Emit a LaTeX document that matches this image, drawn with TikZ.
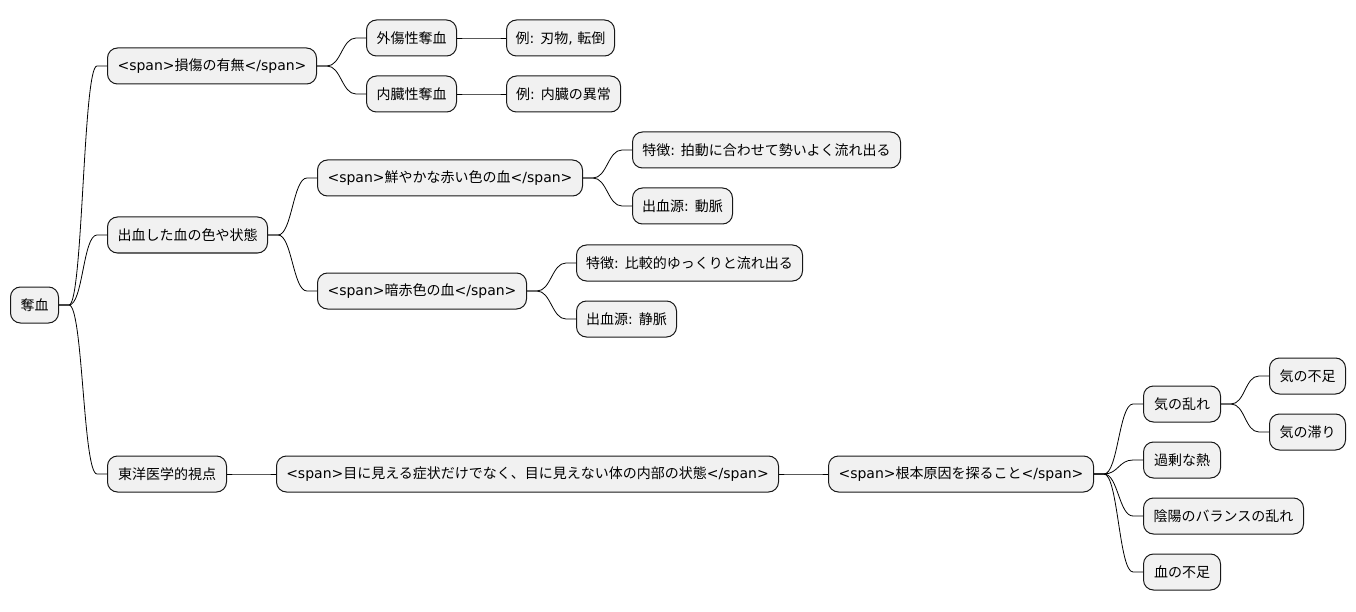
\documentclass[tikz,border=0pt]{standalone}
\usepackage{fontspec}
\setmainfont{DejaVu Sans}
\newfontfamily\jfont{Noto Sans CJK JP}
\usetikzlibrary{positioning}
\definecolor{boxgray}{RGB}{241,241,241}
\definecolor{edge}{RGB}{24,24,24}
% switch to the Japanese font for kana, kanji and full-width forms
\XeTeXinterchartokenstate=1
\newXeTeXintercharclass\jclass
\count255="3000 \loop\XeTeXcharclass\count255=\jclass\ifnum\count255<"30FF \advance\count255 by 1 \repeat
\count255="4E00 \loop\XeTeXcharclass\count255=\jclass\ifnum\count255<"9FFF \advance\count255 by 1 \repeat
\count255="FF00 \loop\XeTeXcharclass\count255=\jclass\ifnum\count255<"FFEF \advance\count255 by 1 \repeat
\XeTeXinterchartoks 0 \jclass = {\begingroup\jfont}
\XeTeXinterchartoks 4095 \jclass = {\begingroup\jfont}
\XeTeXinterchartoks \jclass 0 = {\endgroup}
\XeTeXinterchartoks \jclass 4095 = {\endgroup}
\newcommand{\branch}[2]{\draw[link] (#1.east) -- ++(10,0) .. controls +(14,0) and +(-14,0) .. ([xshift=-10pt]#2.west) -- (#2.west);}

\begin{document}
\begin{tikzpicture}[x=1pt,y=-1pt,
  every node/.style={font=\fontsize{14}{16}\selectfont},
  topic/.style={draw=edge,fill=boxgray,line width=1pt,rounded corners=10pt,minimum height=36pt,inner xsep=0pt,anchor=west,align=center},
  link/.style={draw=black,line width=0.8pt}]
\useasboundingbox (0,0) rectangle (1356,612);
% root
\node[topic,minimum width=48pt] (datsu) at (10,305) {奪血};
% injury
\node[topic,minimum width=209pt] (sonsho) at (107,66) {<span>損傷の有無</span>};
\node[topic,minimum width=90pt] (gaisho) at (366,38) {外傷性奪血};
\node[topic,minimum width=108pt] (gaishoEx) at (506,38) {例: 刃物, 転倒};
\node[topic,minimum width=90pt] (naizo) at (366,94) {内臓性奪血};
\node[topic,minimum width=114pt] (naizoEx) at (506,94) {例: 内臓の異常};
% colour of blood
\node[topic,minimum width=160pt] (iro) at (107,235) {出血した血の色や状態};
\node[topic,minimum width=265pt] (bright) at (317,178) {<span>鮮やかな赤い色の血</span>};
\node[topic,minimum width=268pt] (brightA) at (632,150) {特徴: 拍動に合わせて勢いよく流れ出る};
\node[topic,minimum width=100pt] (brightB) at (632,206) {出血源: 動脈};
\node[topic,minimum width=209pt] (dark) at (317,291) {<span>暗赤色の血</span>};
\node[topic,minimum width=226pt] (darkA) at (576,263) {特徴: 比較的ゆっくりと流れ出る};
\node[topic,minimum width=100pt] (darkB) at (576,319) {出血源: 静脈};
% eastern medicine
\node[topic,minimum width=119pt] (toyo) at (107,474) {東洋医学的視点};
\node[topic,minimum width=502pt] (mieru) at (276,474) {<span>目に見える症状だけでなく、目に見えない体の内部の状態</span>};
\node[topic,minimum width=265pt] (konpon) at (828,474) {<span>根本原因を探ること</span>};
\node[topic,minimum width=77pt] (kiran) at (1143,404) {気の乱れ};
\node[topic,minimum width=76pt] (kibusoku) at (1269,376) {気の不足};
\node[topic,minimum width=76pt] (kitodo) at (1269,432) {気の滞り};
\node[topic,minimum width=77pt] (netsu) at (1143,460) {過剰な熱};
\node[topic,minimum width=160pt] (inyo) at (1143,516) {陰陽のバランスの乱れ};
\node[topic,minimum width=77pt] (ketsu) at (1143,572) {血の不足};

\branch{datsu}{sonsho}
\branch{datsu}{iro}
\branch{datsu}{toyo}
\branch{sonsho}{gaisho}
\branch{sonsho}{naizo}
\branch{gaisho}{gaishoEx}
\branch{naizo}{naizoEx}
\branch{iro}{bright}
\branch{iro}{dark}
\branch{bright}{brightA}
\branch{bright}{brightB}
\branch{dark}{darkA}
\branch{dark}{darkB}
\branch{toyo}{mieru}
\branch{mieru}{konpon}
\branch{konpon}{kiran}
\branch{konpon}{netsu}
\branch{konpon}{inyo}
\branch{konpon}{ketsu}
\branch{kiran}{kibusoku}
\branch{kiran}{kitodo}
\end{tikzpicture}
\end{document}
